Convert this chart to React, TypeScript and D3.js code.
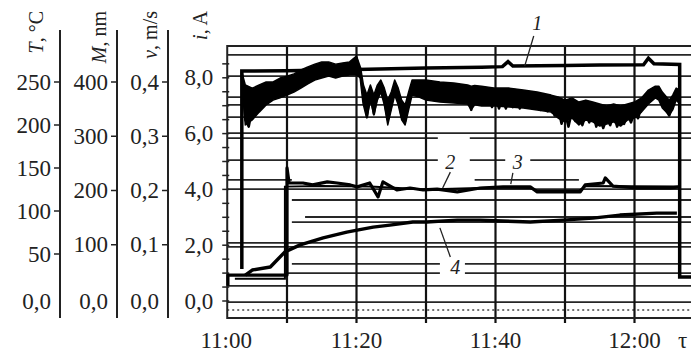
import * as d3 from "d3";

const W = 691;
const H = 352;

// time in minutes after 11:00
const timeTicks = [0, 20, 40, 60];
const timeLabels = ["11:00", "11:20", "11:40", "12:00"];
const gridTimes = [10, 20, 30, 40, 50, 60];

const tempTicks = [0, 50, 100, 150, 200, 250];
const tempLabels = ["0,0", "50", "100", "150", "200", "250"];
const massTicks = [0, 100, 200, 300, 400];
const massLabels = ["0,0", "100", "200", "300", "400"];
const speedTicks = [0, 0.1, 0.2, 0.3, 0.4];
const speedLabels = ["0,0", "0,1", "0,2", "0,3", "0,4"];
const currentTicks = [0, 2, 4, 6, 8];
const currentLabels = ["0,0", "2,0", "4,0", "6,0", "8,0"];

// recorder paper lines: [level (A), from min, to min]
const paperLines: [number, number, number][] = [
  [8.82, 1.4, 72], [8.06, 1.4, 72], [7.31, 1.4, 72], [7.03, 1.4, 72],
  [6.59, 1.4, 72], [6.02, 1.4, 72],
  [5.84, 1.4, 31.7], [5.84, 36.3, 72],
  [5.05, 1.4, 31.7], [5.05, 36.3, 41.4], [5.05, 45, 72],
  [4.34, 1.4, 10.7], [4.34, 37, 52],
  [4.01, 1.4, 72], [3.62, 10.7, 72], [3.01, 12.6, 72], [2.83, 10.7, 72],
  [2.08, 1.4, 72], [1.94, 1.4, 72],
  [1.33, 10.7, 32], [1.33, 35.6, 72],
  [1.0, 10, 32], [1.0, 35.6, 72],
  [0.54, 1.4, 72], [-0.04, 1.4, 72],
];
const dottedLevel = -0.32;
const frameTop = 9.14;
const frameBottom = -0.61;
const frameStart = 1.4;

// trace 1
const trace1: [number, number][] = [
  [3.5, 1.15], [3.5, 8.24], [10, 8.25], [20, 8.3], [25, 8.32], [30, 8.35],
  [38, 8.38], [41, 8.4], [41.8, 8.58], [42.5, 8.42], [50, 8.44], [55, 8.46],
  [61.3, 8.47], [62, 8.7], [62.8, 8.5], [66.5, 8.48], [66.5, 0.86], [72, 0.86],
];

// noisy current trace: band [t, low, high] + jitter line
const noisyBand: [number, number, number][] = [
  [3.5, 7.9, 8.2], [4, 6.31, 7.74], [5, 6.49, 7.63], [6, 6.77, 7.74], [7, 7.03, 7.85],
  [8, 7.2, 7.85], [9, 7.28, 7.99], [10, 7.38, 8.06], [11, 7.49, 8.14], [12, 7.63, 8.28],
  [13, 7.78, 8.39], [14, 7.92, 8.49], [15, 7.99, 8.57], [16, 8.06, 8.57], [17, 7.99, 8.49],
  [18, 8.06, 8.53], [19, 8.1, 8.57], [20, 8.1, 8.78], [20.6, 7.99, 8.35],
  [21, 7.2, 7.74], [21.5, 6.56, 7.38], [22, 7.2, 7.74], [22.5, 6.67, 7.38], [23, 7.2, 7.74],
  [23.5, 7.49, 7.92], [24, 7.03, 7.63], [24.5, 6.31, 7.2], [25, 6.85, 7.49],
  [25.5, 7.38, 7.92], [26, 7.03, 7.63], [26.5, 6.49, 7.2], [27, 6.31, 7.03],
  [27.5, 6.85, 7.49], [28, 7.38, 7.92], [29, 7.31, 7.92], [30, 7.2, 7.92],
  [32, 7.13, 7.85], [34, 7.1, 7.81], [36, 7.06, 7.74], [36.5, 6.85, 7.7], [37, 7.03, 7.72],
  [38, 6.99, 7.7], [40, 6.99, 7.63], [42, 6.95, 7.63], [44, 6.92, 7.56], [46, 6.85, 7.49],
  [48, 6.77, 7.38], [49, 6.56, 7.31], [50, 6.42, 7.2], [51, 6.56, 7.28], [52, 6.31, 7.13],
  [53, 6.49, 7.2], [54, 6.42, 7.13], [55, 6.27, 7.06], [56, 6.34, 6.99], [57, 6.42, 7.06],
  [58, 6.27, 6.99], [59, 6.49, 7.06], [60, 6.56, 7.13], [61, 6.77, 7.28], [62, 7.06, 7.56],
  [63, 7.28, 7.7], [63.5, 7.2, 7.7], [64, 6.92, 7.49], [65, 6.67, 7.2], [65.5, 6.85, 7.38],
  [66, 7.2, 7.63], [66.5, 7.06, 7.56],
];
const noisyJitter: [number, number][] = [
  [3.5, 8.2], [4, 6.5], [4.5, 6.25], [5, 6.9], [5.5, 6.8], [6, 7.4], [6.5, 7.0],
  [7, 7.6], [7.5, 7.2], [8, 7.7], [8.5, 7.35], [9, 7.85], [9.5, 7.45], [10, 7.9],
  [10.5, 7.55], [11, 7.95], [11.5, 7.65], [12, 8.05], [12.5, 7.75], [13, 8.15],
  [13.5, 7.9], [14, 8.3], [14.5, 8.0], [15, 8.4], [15.5, 8.1], [16, 8.35],
  [16.5, 8.1], [17, 8.4], [17.5, 8.15], [18, 8.4], [18.5, 8.2], [19, 8.45],
  [19.5, 8.25], [20, 8.7], [20.5, 8.2], [21, 7.1], [21.5, 6.6], [22, 7.5],
  [22.5, 6.7], [23, 7.4], [23.5, 7.8], [24, 7.2], [24.5, 6.5], [25, 7.0],
  [25.5, 7.75], [26, 7.3], [26.5, 6.6], [27, 6.45], [27.5, 7.2], [28, 7.7],
  [28.5, 7.4], [29, 7.75], [29.5, 7.3], [30, 7.7], [30.5, 7.25], [31, 7.65],
  [31.5, 7.25], [32, 7.65], [32.5, 7.3], [33, 7.6], [33.5, 7.2], [34, 7.55],
  [34.5, 7.2], [35, 7.5], [35.5, 7.15], [36, 7.5], [36.5, 6.85], [37, 7.45],
  [37.5, 7.1], [38, 7.45], [38.5, 7.05], [39, 7.4], [39.5, 6.95], [40, 7.3],
  [40.5, 6.9], [41, 7.25], [41.5, 6.9], [42, 7.3], [42.5, 6.95], [43, 7.25],
  [43.5, 6.9], [44, 7.3], [44.5, 6.95], [45, 7.25], [45.5, 6.9], [46, 7.2],
  [46.5, 6.85], [47, 7.15], [47.5, 6.8], [48, 7.1], [48.5, 6.65], [49, 6.95],
  [49.5, 6.35], [50, 6.75], [50.5, 6.25], [51, 6.8], [51.5, 6.45], [52, 6.85],
  [52.5, 6.3], [53, 6.7], [53.5, 6.4], [54, 6.75], [54.5, 6.25], [55, 6.6],
  [55.5, 6.2], [56, 6.55], [56.5, 6.3], [57, 6.65], [57.5, 6.25], [58, 6.6],
  [58.5, 6.35], [59, 6.7], [59.5, 6.4], [60, 6.75], [60.5, 6.55], [61, 6.95],
  [61.5, 7.15], [62, 7.45], [62.5, 7.3], [63, 7.65], [63.5, 7.5], [64, 7.2],
  [64.5, 6.85], [65, 6.65], [65.5, 7.0], [66, 7.45], [66.5, 7.3],
];

// trace 2
const trace2: [number, number][] = [
  [1.5, 0.55], [1.5, 0.93], [10, 0.93], [10, 4.77], [10.3, 4.23], [12.3, 4.23],
  [13.7, 4.16], [15.8, 4.27], [17.2, 4.23], [19.1, 4.16], [20.1, 4.09],
  [21.9, 4.23], [23.1, 3.73], [23.8, 4.27], [25.8, 3.98], [27.7, 4.05],
  [29.6, 3.98], [31.6, 4.01], [34.5, 3.91], [37.8, 4.05], [41.1, 4.09],
  [45, 4.09], [46, 3.91], [52.2, 3.91], [52.9, 4.16], [55.5, 4.23],
  [55.8, 4.41], [56.9, 4.12], [60.4, 4.05], [65.1, 4.05], [66.5, 4.09],
];

// trace 3
const trace3: [number, number][] = [
  [2.5, 0.8], [9.7, 0.8], [9.7, 4.1], [15, 4.12], [22, 4.1], [30, 4.0],
  [40, 4.07], [45, 4.05], [46, 3.95], [52, 3.95], [53, 4.12], [66.5, 4.1],
];

// trace 4
const trace4: [number, number][] = [
  [4, 0.93], [5, 1.11], [7.6, 1.22], [9.7, 1.76], [11.9, 2.01], [15.2, 2.26],
  [18.6, 2.47], [20.1, 2.54], [22.4, 2.65], [24.8, 2.72], [28.1, 2.83],
  [30.1, 2.83], [34.5, 2.9], [37.8, 2.9], [45, 2.83], [49.7, 2.9], [54, 2.97],
  [57.9, 3.08], [63.2, 3.15], [66.1, 3.15],
];

// curve numbers: [label, text t, text i, leader from t, i, leader to t, i]
const callouts: [string, number, number, number, number, number, number][] = [
  ["1", 46, 9.96, 45.5, 9.5, 44.2, 8.42],
  ["2", 33.5, 4.98, 33.5, 4.62, 32.4, 4.05],
  ["3", 43.2, 4.98, 42.5, 4.59, 42.2, 4.19],
  ["4", 34.2, 1.22, 33.5, 1.58, 32, 2.62],
];

const FONT = "'Liberation Serif', 'Times New Roman', serif";

export default function App() {
  const x = d3.scaleLinear().domain([0, 70]).range([217.5, 704]);
  const yI = d3.scaleLinear().domain([0, 8]).range([301, 77.8]);
  const yT = d3.scaleLinear().domain([0, 250]).range([297, 82]);
  const yM = d3.scaleLinear().domain([0, 400]).range([299, 82]);
  const yV = d3.scaleLinear().domain([0, 0.4]).range([299, 82]);

  const line = d3
    .line<[number, number]>()
    .x((d) => x(d[0]))
    .y((d) => yI(d[1]));

  const band = d3
    .area<[number, number, number]>()
    .x((d) => x(d[0]))
    .y0((d) => yI(d[1]))
    .y1((d) => yI(d[2]));

  const left = x(frameStart);
  const top = yI(frameTop);
  const bottom = yI(frameBottom);
  const axisTop = 30;

  const leftAxes = [
    { ax: 60, scale: yT, ticks: tempTicks, labels: tempLabels, title: ["T", ", °C"], tx: 43 },
    { ax: 117, scale: yM, ticks: massTicks, labels: massLabels, title: ["M", ", nm"], tx: 106 },
    { ax: 168, scale: yV, ticks: speedTicks, labels: speedLabels, title: ["v", ", m/s"], tx: 157 },
  ];

  const iMinor = d3.range(0, 8.51, 0.5);

  return (
    <svg
      width={W}
      height={H}
      style={{ position: "absolute", left: 0, top: 0, background: "#fff" }}
      fontFamily={FONT}
    >
      {/* left scales */}
      {leftAxes.map((a, k) => (
        <g key={k}>
          <line x1={a.ax} x2={a.ax} y1={axisTop} y2={bottom} stroke="#222" strokeWidth={2} />
          {a.ticks.map((t, j) => (
            <g key={j}>
              {t !== 0 && (
                <line x1={a.ax - 6} x2={a.ax} y1={a.scale(t)} y2={a.scale(t)} stroke="#222" strokeWidth={1.5} />
              )}
              <text
                x={a.ax - 9}
                y={t === 0 ? 301 : a.scale(t)}
                textAnchor="end"
                dominantBaseline="central"
                fontSize={23}
                fill="#222"
              >
                {a.labels[j]}
              </text>
            </g>
          ))}
          <text transform={`translate(${a.tx},11) rotate(-90)`} textAnchor="end" fontSize={20} fill="#222">
            <tspan fontStyle="italic">{a.title[0]}</tspan>
            {a.title[1]}
          </text>
        </g>
      ))}

      {/* current scale on the frame */}
      {currentTicks.map((t, j) => (
        <text key={j} x={left - 14} y={yI(t)} textAnchor="end" dominantBaseline="central" fontSize={23} fill="#222">
          {currentLabels[j]}
        </text>
      ))}
      <text transform={`translate(207,11) rotate(-90)`} textAnchor="end" fontSize={20} fill="#222">
        <tspan fontStyle="italic">i</tspan>, A
      </text>

      {/* paper grid */}
      {paperLines.map((g, k) => (
        <line key={k} x1={x(g[1])} x2={x(g[2])} y1={yI(g[0])} y2={yI(g[0])} stroke="#262626" strokeWidth={1.8} />
      ))}
      <line
        x1={left}
        x2={W}
        y1={yI(dottedLevel)}
        y2={yI(dottedLevel)}
        stroke="#444"
        strokeWidth={1.5}
        strokeDasharray="2,3"
      />
      {gridTimes.map((t) => (
        <line key={t} x1={x(t)} x2={x(t)} y1={top} y2={bottom + 5} stroke="#111" strokeWidth={2.2} />
      ))}
      {iMinor.map((t) => (
        <line key={t} x1={left - 5} x2={left + 2} y1={yI(t)} y2={yI(t)} stroke="#222" strokeWidth={1.5} />
      ))}
      <path
        d={`M${W + 5},${top}H${left}V${bottom}H${W + 5}`}
        fill="none"
        stroke="#222"
        strokeWidth={2}
      />

      {/* traces */}
      <path d={band(noisyBand) ?? ""} fill="#000" stroke="#000" strokeWidth={1.5} strokeLinejoin="round" />
      <path d={line(noisyJitter) ?? ""} fill="none" stroke="#000" strokeWidth={2.5} strokeLinejoin="round" />
      <path d={line(trace1) ?? ""} fill="none" stroke="#000" strokeWidth={3.5} />
      <path d={line(trace4) ?? ""} fill="none" stroke="#000" strokeWidth={3.4} strokeLinejoin="round" />
      <path d={line(trace3) ?? ""} fill="none" stroke="#000" strokeWidth={2} />
      <path d={line(trace2) ?? ""} fill="none" stroke="#000" strokeWidth={3.2} strokeLinejoin="round" />

      {/* curve numbers */}
      {callouts.map((c) => (
        <g key={c[0]}>
          <rect x={x(c[1]) - 8} y={yI(c[2]) - 11} width={16} height={22} fill="#fff" />
          <text
            x={x(c[1])}
            y={yI(c[2])}
            textAnchor="middle"
            dominantBaseline="central"
            fontSize={20}
            fontStyle="italic"
            fill="#222"
          >
            {c[0]}
          </text>
          <line x1={x(c[3])} y1={yI(c[4])} x2={x(c[5])} y2={yI(c[6])} stroke="#222" strokeWidth={1.3} />
        </g>
      ))}

      {/* time axis */}
      {timeTicks.map((t, j) => (
        <text key={t} x={Math.max(x(t), left - 1)} y={348} textAnchor="middle" fontSize={23} fill="#222">
          {timeLabels[j]}
        </text>
      ))}
      <text x={678} y={348} fontSize={23} fill="#222">
        τ
      </text>
    </svg>
  );
}
